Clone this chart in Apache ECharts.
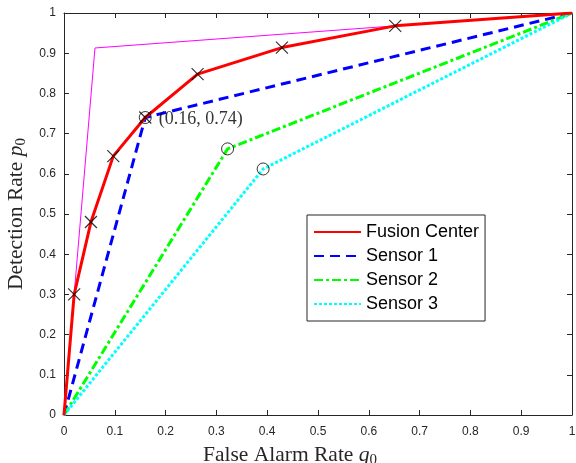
<!DOCTYPE html>
<html>
<head>
<meta charset="utf-8">
<script src="https://cdn.jsdelivr.net/npm/echarts@6/dist/echarts.min.js"></script>
<style>html,body{margin:0;padding:0;background:#fff}#c{width:576px;height:463px}</style>
</head>
<body>
<div id="c"></div>
<script>
// Data
var fusionQ = [0, 0.02, 0.053, 0.097, 0.16, 0.263, 0.429, 0.652, 1];
var fusionP = [0, 0.30, 0.48, 0.644, 0.74, 0.848, 0.914, 0.968, 1];
var sensor1Q = [0, 0.16, 1];
var sensor1P = [0, 0.74, 1];
var sensor2Q = [0, 0.322, 1];
var sensor2P = [0, 0.662, 1];
var sensor3Q = [0, 0.392, 1];
var sensor3P = [0, 0.612, 1];
var boundQ = [0, 0.02, 0.061, 0.652, 1];
var boundP = [0, 0.30, 0.913, 0.968, 1];
var crossQ = [0.02, 0.053, 0.097, 0.16, 0.263, 0.429, 0.652];
var crossP = [0.30, 0.48, 0.644, 0.74, 0.848, 0.914, 0.968];
var circleQ = [0.16, 0.322, 0.392];
var circleP = [0.74, 0.662, 0.612];
var annotation = '(0.16, 0.74)';
var xTicks = [0, 0.1, 0.2, 0.3, 0.4, 0.5, 0.6, 0.7, 0.8, 0.9, 1];
var yTicks = [0, 0.1, 0.2, 0.3, 0.4, 0.5, 0.6, 0.7, 0.8, 0.9, 1];

function pairs(a, b) { return a.map(function (v, i) { return [v, b[i]]; }); }

var axisCol = '#262626';
var sans = 'Liberation Sans';
var serif = 'Liberation Serif';

function axisBase(pos, show) {
  return {
    type: 'value', position: pos, min: xTicks[0], max: xTicks[xTicks.length - 1], interval: 0.1,
    axisLine: { show: true, onZero: false, lineStyle: { color: axisCol, width: 1 } },
    axisTick: { show: true, inside: true, length: 5, lineStyle: { color: axisCol } },
    splitLine: { show: false },
    axisLabel: { show: show, color: axisCol, fontFamily: sans, fontSize: 12 }
  };
}

function richName(extraPad) {
  return { color: axisCol, padding: extraPad, rich: {
    a: { fontFamily: serif, fontSize: 21.5, color: axisCol },
    b: { fontFamily: serif, fontSize: 21.5, fontStyle: 'italic', color: axisCol },
    c: { fontFamily: serif, fontSize: 15, color: axisCol, padding: [10, 0, 0, 0] } } };
}

var xa = axisBase('bottom', true);
xa.axisLabel.margin = 11;
xa.name = '{a|False Alarm Rate }{b|q}{c|0}';
xa.nameLocation = 'middle';
xa.nameGap = 28;
xa.nameTextStyle = richName([0, 56, 0, 0]);
var xa2 = axisBase('top', false);
var ya = axisBase('left', true);
ya.axisLabel.margin = 8;
ya.name = '{a|Detection Rate }{b|p}{c|0}';
ya.nameLocation = 'middle';
ya.nameGap = 32;
ya.nameRotate = 90;
ya.nameTextStyle = richName(0);
var ya2 = axisBase('right', false);

function lineSeries(name, data, color, type, width, z) {
  return {
    name: name, type: 'line', data: data, xAxisIndex: 0, yAxisIndex: 0,
    symbol: 'none', showSymbol: false, z: z, animation: false,
    lineStyle: { color: color, width: width, type: type },
    itemStyle: { color: color }
  };
}

var chart = echarts.init(document.getElementById('c'), null, { renderer: 'canvas' });
chart.setOption({
  animation: false,
  grid: { left: 64, right: 4, top: 13, bottom: 48, containLabel: false, outerBoundsMode: 'none' },
  xAxis: [xa, xa2],
  yAxis: [ya, ya2],
  legend: {
    data: ['Fusion Center', 'Sensor 1', 'Sensor 2', 'Sensor 3'],
    orient: 'vertical', left: 307, top: 215,
    itemWidth: 47, itemHeight: 14, itemGap: 6,
    padding: [8, 6, 8, 6],
    borderColor: axisCol, borderWidth: 1, backgroundColor: '#fff',
    itemStyle: { color: 'rgba(0,0,0,0)', borderWidth: 0, opacity: 0 },
    textStyle: { fontFamily: sans, fontSize: 18, color: '#000' }
  },
  series: [
    lineSeries('bound', pairs(boundQ, boundP), '#ff00ff', 'solid', 1, 2),
    lineSeries('Sensor 1', pairs(sensor1Q, sensor1P), '#0000ff', [10, 6], 3, 3),
    lineSeries('Sensor 2', pairs(sensor2Q, sensor2P), '#00ff00', [9, 3, 3, 3], 3, 4),
    lineSeries('Sensor 3', pairs(sensor3Q, sensor3P), '#00ffff', [3, 2], 3, 5),
    lineSeries('Fusion Center', pairs(fusionQ, fusionP), '#ff0000', 'solid', 3, 6),
    {
      name: 'crosses', type: 'scatter', data: pairs(crossQ, crossP), z: 8,
      symbol: 'path://M0,0L10,10M10,0L0,10', symbolSize: 12,
      itemStyle: { color: 'none', borderColor: '#000', borderWidth: 1.2 }
    },
    {
      name: 'circles', type: 'scatter', data: pairs(circleQ, circleP).map(function (d, i) {
        var o = { value: d };
        if (i === 0) {
          o.label = { show: true, position: 'right', distance: 5, offset: [0, 2], formatter: annotation,
            fontFamily: serif, fontSize: 18, color: '#000' };
        }
        return o;
      }), z: 9,
      symbol: 'circle', symbolSize: 12,
      itemStyle: { color: 'none', borderColor: '#000', borderWidth: 1 }
    }
  ]
});
</script>
</body>
</html>
